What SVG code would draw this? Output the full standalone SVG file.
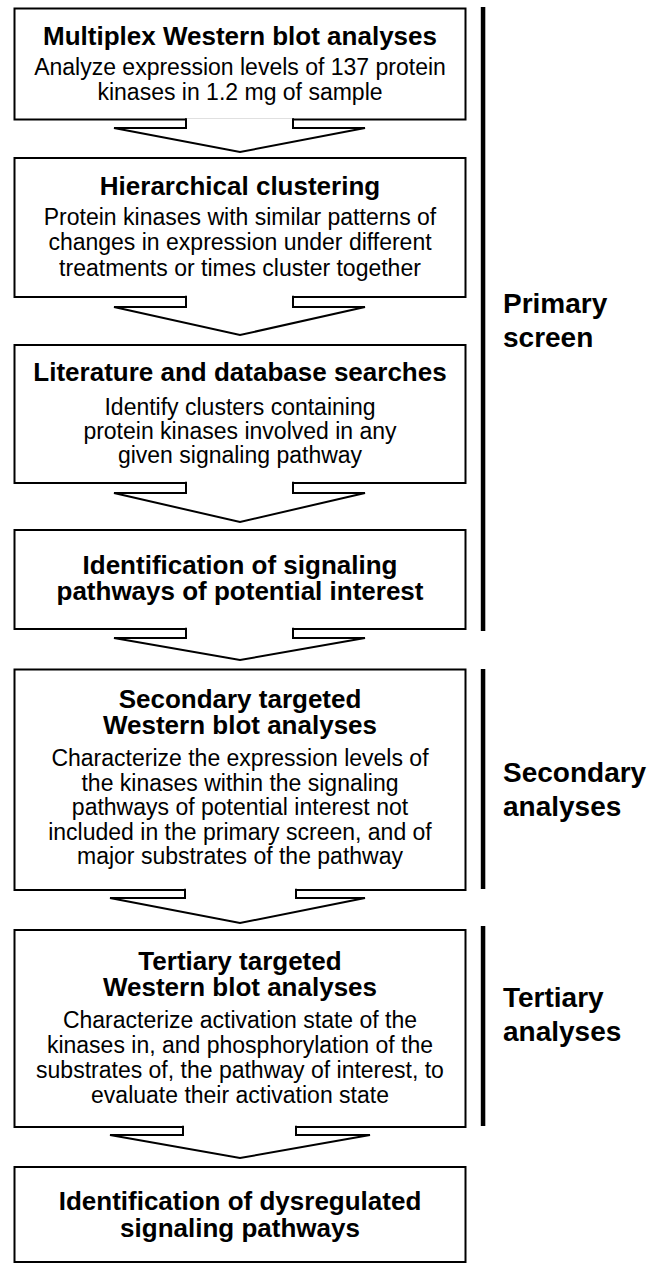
<svg xmlns="http://www.w3.org/2000/svg" width="651" height="1265" viewBox="0 0 651 1265">
<style>
.box{fill:#fff;stroke:#000;stroke-width:2}
.arr{fill:#fff;stroke:#000;stroke-width:2;stroke-linejoin:miter}
.bar{fill:#000}
text{font-family:"Liberation Sans",Arial,Helvetica,sans-serif;fill:#000;text-anchor:middle}
.t{font-size:26px;font-weight:bold}
.b{font-size:23px}
.s{font-size:28px;font-weight:bold;text-anchor:start}
</style>
<rect width="651" height="1265" fill="#fff"/>
<g id="node1">
<rect class="box" x="14.5" y="8.5" width="451" height="111"/>
<text class="t" x="240" y="45">Multiplex Western blot analyses</text>
<text class="b" x="240" y="75">Analyze expression levels of 137 protein</text>
<text class="b" x="240" y="100">kinases in 1.2 mg of sample</text>
</g>
<g id="node2">
<rect class="box" x="14.5" y="158" width="451" height="139"/>
<text class="t" x="240" y="195">Hierarchical clustering</text>
<text class="b" x="240" y="225">Protein kinases with similar patterns of</text>
<text class="b" x="240" y="250">changes in expression under different</text>
<text class="b" x="240" y="276">treatments or times cluster together</text>
</g>
<g id="node3">
<rect class="box" x="14.5" y="345" width="451" height="138"/>
<text class="t" x="240" y="381">Literature and database searches</text>
<text class="b" x="240" y="415">Identify clusters containing</text>
<text class="b" x="240" y="439">protein kinases involved in any</text>
<text class="b" x="240" y="463">given signaling pathway</text>
</g>
<g id="node4">
<rect class="box" x="14.5" y="530" width="451" height="99"/>
<text class="t" x="240" y="574">Identification of signaling</text>
<text class="t" x="240" y="600">pathways of potential interest</text>
</g>
<g id="node5">
<rect class="box" x="14.5" y="669.5" width="451" height="220.5"/>
<text class="t" x="240" y="708">Secondary targeted</text>
<text class="t" x="240" y="734">Western blot analyses</text>
<text class="b" x="240" y="766">Characterize the expression levels of</text>
<text class="b" x="240" y="791">the kinases within the signaling</text>
<text class="b" x="240" y="815">pathways of potential interest not</text>
<text class="b" x="240" y="840">included in the primary screen, and of</text>
<text class="b" x="240" y="864">major substrates of the pathway</text>
</g>
<g id="node6">
<rect class="box" x="14.5" y="930" width="451" height="197"/>
<text class="t" x="240" y="970">Tertiary targeted</text>
<text class="t" x="240" y="996">Western blot analyses</text>
<text class="b" x="240" y="1028">Characterize activation state of the</text>
<text class="b" x="240" y="1053">kinases in, and phosphorylation of the</text>
<text class="b" x="240" y="1078">substrates of, the pathway of interest, to</text>
<text class="b" x="240" y="1103">evaluate their activation state</text>
</g>
<g id="node7">
<rect class="box" x="14.5" y="1167" width="451" height="95"/>
<text class="t" x="240" y="1210">Identification of dysregulated</text>
<text class="t" x="240" y="1237">signaling pathways</text>
</g>
<g id="connectors">
<path class="arr" d="M186,118.3 V128 H114 L240,152 L365,128 H293 V118.3"/>
<path class="arr" d="M186,295.8 V307 H114 L240,335 L365,307 H293 V295.8"/>
<path class="arr" d="M186,481.8 V493 H114 L240,522 L365,493 H293 V481.8"/>
<path class="arr" d="M186,627.8 V638 H114 L240,660 L365,638 H293 V627.8"/>
<path class="arr" d="M185,888.8 V898 H110 L240,923 L365,898 H296 V888.8"/>
<path class="arr" d="M183,1125.8 V1135 H110 L240,1158 L370,1135 H296 V1125.8"/>
</g>
<g id="phases">
<rect class="bar" x="480.8" y="7" width="4.5" height="624"/>
<text class="s" x="503" y="313">Primary</text>
<text class="s" x="503" y="347">screen</text>
<rect class="bar" x="480.8" y="669" width="4.5" height="220"/>
<text class="s" x="503" y="782">Secondary</text>
<text class="s" x="503" y="816">analyses</text>
<rect class="bar" x="480.8" y="926" width="4.5" height="200"/>
<text class="s" x="503" y="1007">Tertiary</text>
<text class="s" x="503" y="1041">analyses</text>
</g>
</svg>
